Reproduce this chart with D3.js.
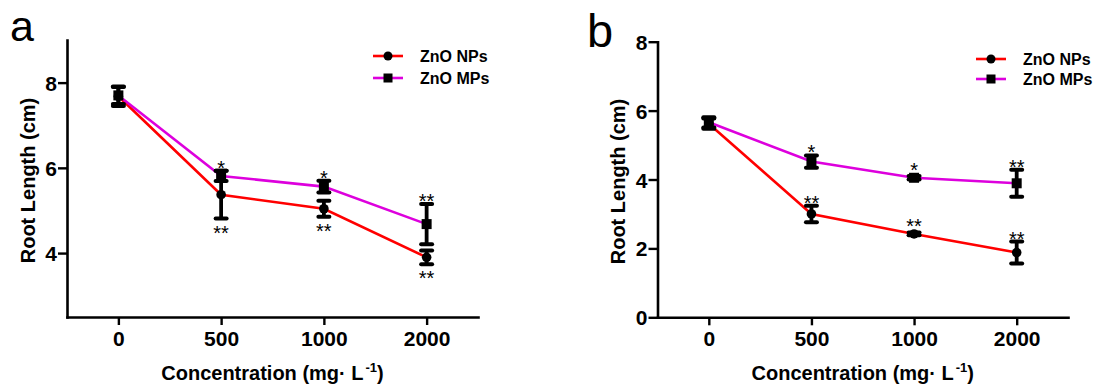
<!DOCTYPE html>
<html>
<head>
<meta charset="utf-8">
<script src="https://cdn.jsdelivr.net/npm/d3@7"></script>
<style>
  body { margin: 0; background: #fff; }
  svg { display: block; font-family: "Liberation Sans", Arial, sans-serif; }
</style>
</head>
<body>
<svg id="chart" width="1096" height="385"></svg>
<script>
// data
var categories = ["0", "500", "1000", "2000"];

var aNPMean = [7.68, 5.37, 5.04, 3.90];
var aNPErr  = [0.23, 0.56, 0.19, 0.16];
var aMPMean = [7.70, 5.81, 5.56, 4.68];
var aMPErr  = [0.20, 0.12, 0.14, 0.47];
var aNPSig  = ["", "**", "**", "**"];
var aMPSig  = ["", "*", "*", "**"];
var aTicks  = [4, 6, 8];

var bNPMean = [5.62, 3.00, 2.42, 1.88];
var bNPErr  = [0.15, 0.24, 0.04, 0.32];
var bMPMean = [5.66, 4.52, 4.05, 3.89];
var bMPErr  = [0.15, 0.18, 0.05, 0.39];
var bNPSig  = ["", "**", "**", "**"];
var bMPSig  = ["", "*", "*", "**"];
var bTicks  = [0, 2, 4, 6, 8];

var seriesNames = ["ZnO NPs", "ZnO MPs"];
var seriesColors = ["#ff0000", "#dd00dd"];

var svg = d3.select("#chart");

function drawPanel(p) {
  var x = d3.scalePoint().domain(categories).range([p.left, p.right]).padding(0.5);
  var y = d3.scaleLinear().domain(p.yDomain).range([p.bottom, p.top]);

  var g = svg.append("g");

  // axes
  var xAxis = g.append("g")
    .attr("transform", "translate(0," + p.bottom + ")")
    .call(d3.axisBottom(x).tickSize(8).tickSizeOuter(0).tickPadding(6));
  var yAxis = g.append("g")
    .attr("transform", "translate(" + p.left + ",0)")
    .call(d3.axisLeft(y).tickValues(p.yTicks).tickFormat(d3.format("d")).tickSize(9).tickSizeOuter(0).tickPadding(1));

  [xAxis, yAxis].forEach(function (ax) {
    ax.select(".domain").attr("stroke", "#000").attr("stroke-width", 2.6).attr("stroke-linecap", "square");
    ax.selectAll(".tick line").attr("stroke", "#000").attr("stroke-width", 2.4);
    ax.selectAll(".tick text")
      .attr("fill", "#000")
      .style("font-size", "21px")
      .style("font-weight", "bold")
      .style("font-family", "Liberation Sans, Arial, sans-serif");
  });
  yAxis.selectAll(".tick text").attr("dy", "0.36em");

  // axis titles
  g.append("text")
    .attr("x", (p.left + p.right) / 2)
    .attr("y", 380)
    .attr("text-anchor", "middle")
    .style("font-size", "20px")
    .style("font-weight", "bold")
    .text("Concentration (mg\u00B7 L")
    .append("tspan")
      .attr("dy", "-8")
      .attr("dx", "2")
      .style("font-size", "13px")
      .text("-1")
    .select(function () { return this.parentNode; })
    .append("tspan")
      .attr("dy", "8")
      .text(")");

  g.append("text")
    .attr("transform", "translate(" + p.titleX + "," + ((p.top + p.bottom) / 2 + 2) + ") rotate(-90)")
    .attr("text-anchor", "middle")
    .style("font-size", "20px")
    .style("font-weight", "bold")
    .text("Root Length (cm)");

  // panel letter
  g.append("text")
    .attr("x", p.letterX)
    .attr("y", p.letterY)
    .style("font-size", p.letterSize + "px")
    .text(p.letter);

  var series = [
    { mean: p.npMean, err: p.npErr, sig: p.npSig, sigPos: p.npSigPos, color: seriesColors[0], shape: "circle" },
    { mean: p.mpMean, err: p.mpErr, sig: p.mpSig, sigPos: "above", color: seriesColors[1], shape: "square" }
  ];

  var line = d3.line()
    .x(function (d, i) { return x(categories[i]); })
    .y(function (d) { return y(d); });

  series.forEach(function (s) {
    g.append("path")
      .datum(s.mean)
      .attr("fill", "none")
      .attr("stroke", s.color)
      .attr("stroke-width", 2.6)
      .attr("d", line);
  });

  series.forEach(function (s) {
    var eg = g.append("g");
    s.mean.forEach(function (m, i) {
      var cx = x(categories[i]);
      var yTop = y(m + s.err[i]), yBot = y(m - s.err[i]);
      eg.append("line")
        .attr("x1", cx).attr("x2", cx).attr("y1", yTop).attr("y2", yBot)
        .attr("stroke", "#000").attr("stroke-width", 3.8);
      [yTop, yBot].forEach(function (yy) {
        eg.append("line")
          .attr("x1", cx - 5.5).attr("x2", cx + 5.5).attr("y1", yy).attr("y2", yy)
          .attr("stroke", "#000").attr("stroke-width", 4).attr("stroke-linecap", "round");
      });
      if (s.shape == "circle") {
        eg.append("circle").attr("cx", cx).attr("cy", y(m)).attr("r", 4.8).attr("fill", "#000");
      } else {
        eg.append("rect").attr("x", cx - 5).attr("y", y(m) - 5).attr("width", 10).attr("height", 10).attr("fill", "#000");
      }
      // significance stars
      if (s.sig[i]) {
        var cy;
        if (s.sigPos == "above") cy = Math.min(yTop, y(m) - 5) - 7;
        else cy = Math.max(yBot, y(m) + 5) + 10;
        eg.append("text")
          .attr("x", cx)
          .attr("y", cy + 11)
          .attr("text-anchor", "middle")
          .style("font-size", "20px")
          .text(s.sig[i]);
      }
    });
  });

  // legend
  var lg = g.append("g");
  seriesNames.forEach(function (name, i) {
    var ly = p.legendY[i];
    lg.append("line")
      .attr("x1", p.legendX).attr("x2", p.legendX + 30).attr("y1", ly).attr("y2", ly)
      .attr("stroke", seriesColors[i]).attr("stroke-width", 2.6);
    if (i == 0) {
      lg.append("circle").attr("cx", p.legendX + 15).attr("cy", ly).attr("r", 4.5).attr("fill", "#000");
    } else {
      lg.append("rect").attr("x", p.legendX + 10.5).attr("y", ly - 4.5).attr("width", 9).attr("height", 9).attr("fill", "#000");
    }
    lg.append("text")
      .attr("x", p.legendX + 47)
      .attr("y", ly + 5.7)
      .style("font-size", "16px")
      .style("font-weight", "bold")
      .text(name);
  });
}

drawPanel({
  left: 67, right: 478, top: 40, bottom: 317,
  yDomain: [2.5, 9], yTicks: aTicks,
  npMean: aNPMean, npErr: aNPErr, npSig: aNPSig, npSigPos: "below",
  mpMean: aMPMean, mpErr: aMPErr, mpSig: aMPSig,
  titleX: 35, letter: "a", letterX: 10, letterY: 41, letterSize: 43,
  legendX: 373, legendY: [56, 78]
});

drawPanel({
  left: 657.5, right: 1068, top: 41.7, bottom: 317.3,
  yDomain: [0, 8], yTicks: bTicks,
  npMean: bNPMean, npErr: bNPErr, npSig: bNPSig, npSigPos: "above",
  mpMean: bMPMean, mpErr: bMPErr, mpSig: bMPSig,
  titleX: 625, letter: "b", letterX: 587, letterY: 47, letterSize: 47,
  legendX: 976, legendY: [59, 79]
});
</script>
</body>
</html>
